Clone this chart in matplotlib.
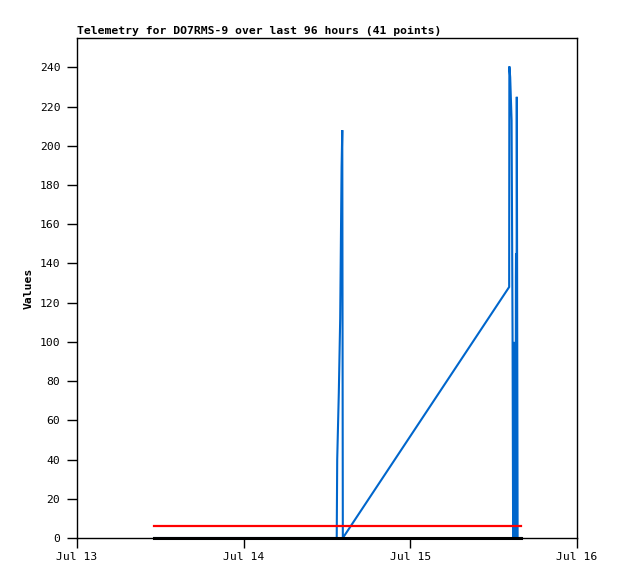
import pandas as pd
import matplotlib
matplotlib.use("Agg")
import matplotlib.pyplot as plt
import matplotlib.dates as mdates

# time offsets (hours after Jul 13 00:00) and values
hours = [11.1, 13.0, 15.0, 17.0, 19.0, 21.0, 23.0, 25.0, 27.0, 29.0, 31.0, 33.0, 35.0, 36.5,
         37.4, 37.47, 37.7, 37.9, 38.0, 38.1, 38.2, 38.28,
         62.23, 62.26, 62.38, 62.48, 62.58, 62.72,
         62.80, 62.86, 62.92, 62.98, 63.04, 63.10, 63.16, 63.20, 63.22, 63.27, 63.33, 63.45, 63.92]
blue_vals = [0, 0, 0, 0, 0, 0, 0, 0, 0, 0, 0, 0, 0, 0,
             0, 40, 74, 112, 151, 189, 208, 0,
             128, 240.5, 235, 224, 213, 104,
             0, 98, 0, 100, 0, 97, 0, 133, 145, 0, 225, 0, 0]
red_val = 6
black_val = 0

base = pd.Timestamp("2024-07-13")
times = [base + pd.Timedelta(hours=h) for h in hours]

plt.rcParams['font.family'] = "DejaVu Sans Mono"
plt.rcParams['font.size'] = 8.2

fig = plt.figure(figsize=(6.18, 5.79), dpi=100)
ax = fig.add_axes([77 / 618, 41 / 579, 500 / 618, 500 / 579])

# blue first, then red and black drawn over it
ax.plot(times, blue_vals, color='#0066cc', linewidth=1.5, solid_joinstyle='miter')
ax.plot(times, [red_val] * len(times), color='#ff0000', linewidth=1.6)
ax.plot(times, [black_val] * len(times), color='black', linewidth=2.2, clip_on=False)

ax.set_xlim(base, base + pd.Timedelta(days=3))
ax.set_ylim(0, 255)
ax.set_yticks(range(0, 241, 20))
ax.xaxis.set_major_locator(mdates.DayLocator())
ax.xaxis.set_major_formatter(mdates.DateFormatter('%b %d'))

ax.tick_params(direction='out', length=7, width=1, labelsize=8.2)
ax.tick_params(axis='x', pad=3)
ax.tick_params(axis='y', pad=5)
for s in ax.spines.values():
    s.set_linewidth(1)

ax.set_title('Telemetry for DO7RMS-9 over last 96 hours (41 points)', loc='left',
             fontweight='bold', fontsize=8.2, pad=3)
ax.set_ylabel('Values', fontweight='bold', fontsize=8.2, labelpad=4)

fig.savefig('out.png', dpi=100)
